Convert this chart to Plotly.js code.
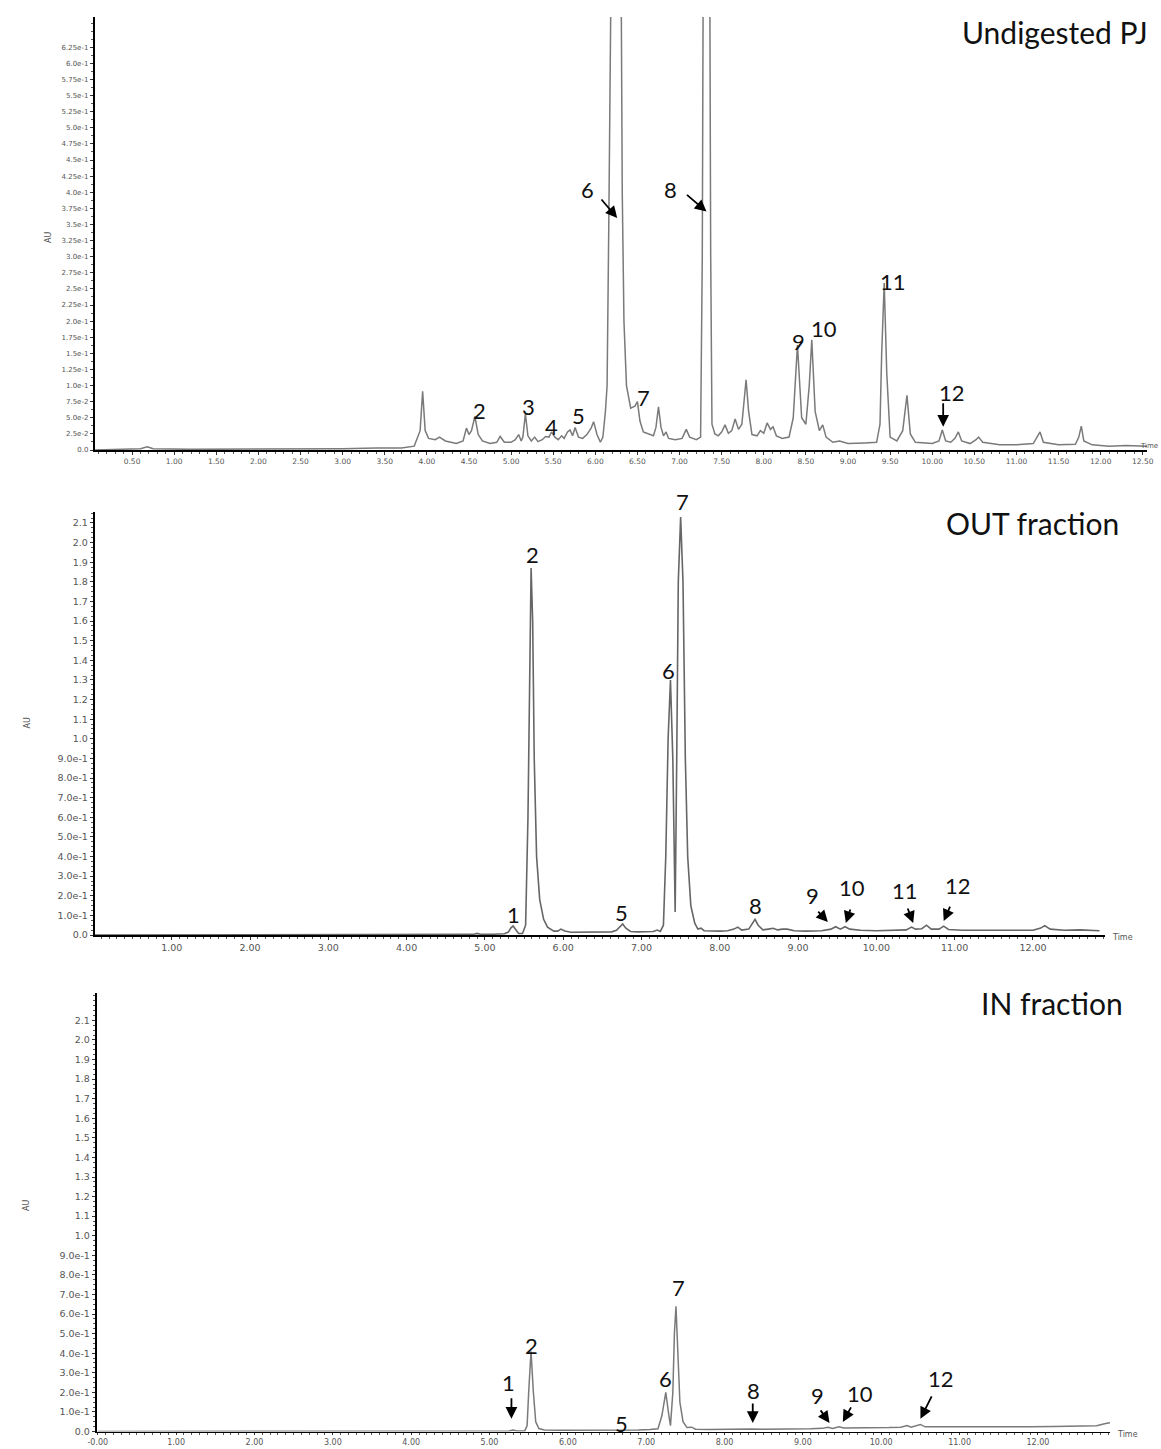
<!DOCTYPE html>
<html><head><meta charset="utf-8">
<script src="https://cdn.plot.ly/plotly-3.0.1.min.js"></script>
<style>body{margin:0;background:#fff}#chart{width:1161px;height:1449px}</style>
</head><body><div id="chart"></div>
<script>
// ---------- DATA ----------
// Panel 1: Undigested PJ chromatogram (time in min, absorbance AU)
const pjTime = [0.06,0.40,0.60,0.68,0.75,1.20,2.00,2.60,3.00,3.40,3.70,3.85,3.92,3.95,3.98,4.02,4.10,4.15,4.22,4.35,4.43,4.47,4.50,4.53,4.57,4.61,4.66,4.75,4.83,4.87,4.92,5.00,5.05,5.09,5.12,5.14,5.17,5.20,5.24,5.28,5.32,5.37,5.41,5.45,5.48,5.52,5.56,5.60,5.63,5.67,5.70,5.73,5.76,5.80,5.85,5.90,5.95,5.98,6.02,6.06,6.09,6.12,6.14,6.16,6.18,6.24,6.30,6.32,6.34,6.37,6.42,6.47,6.50,6.53,6.57,6.64,6.69,6.72,6.75,6.78,6.81,6.84,6.87,6.95,7.03,7.08,7.12,7.20,7.25,7.27,7.285,7.32,7.355,7.37,7.385,7.42,7.46,7.50,7.54,7.58,7.62,7.66,7.70,7.74,7.77,7.79,7.82,7.86,7.92,7.96,8.00,8.04,8.08,8.11,8.15,8.22,8.30,8.35,8.40,8.45,8.50,8.54,8.57,8.61,8.66,8.70,8.74,8.82,8.90,9.00,9.20,9.34,9.38,9.40,9.43,9.46,9.50,9.58,9.65,9.70,9.74,9.80,10.00,10.08,10.12,10.16,10.22,10.27,10.31,10.35,10.45,10.52,10.55,10.60,10.80,11.00,11.20,11.25,11.28,11.32,11.50,11.70,11.74,11.77,11.80,11.90,12.10,12.30,12.55];
const pjAU   = [0.000,0.001,0.002,0.005,0.002,0.001,0.001,0.002,0.002,0.003,0.003,0.006,0.030,0.091,0.030,0.018,0.016,0.020,0.014,0.010,0.014,0.034,0.024,0.030,0.052,0.024,0.014,0.010,0.012,0.021,0.012,0.012,0.016,0.024,0.014,0.020,0.056,0.022,0.014,0.020,0.013,0.016,0.021,0.020,0.028,0.020,0.016,0.022,0.018,0.028,0.031,0.022,0.035,0.020,0.018,0.024,0.034,0.044,0.024,0.012,0.020,0.060,0.100,0.350,0.900,1.500,0.900,0.400,0.200,0.100,0.065,0.068,0.075,0.045,0.028,0.024,0.022,0.035,0.067,0.035,0.022,0.028,0.018,0.016,0.018,0.032,0.020,0.016,0.020,0.300,0.900,1.400,0.900,0.300,0.040,0.025,0.022,0.028,0.039,0.026,0.030,0.048,0.032,0.040,0.090,0.109,0.060,0.024,0.022,0.030,0.026,0.042,0.032,0.036,0.022,0.018,0.020,0.050,0.163,0.050,0.040,0.100,0.171,0.060,0.030,0.039,0.020,0.012,0.014,0.010,0.011,0.012,0.040,0.150,0.259,0.120,0.020,0.014,0.030,0.085,0.025,0.012,0.010,0.014,0.031,0.014,0.012,0.018,0.028,0.014,0.010,0.016,0.020,0.012,0.008,0.008,0.010,0.022,0.028,0.012,0.008,0.009,0.020,0.037,0.014,0.008,0.006,0.007,0.006];

// Panel 2: OUT fraction
const outTime = [0.02,1.00,2.00,3.00,4.00,4.70,4.85,4.90,4.95,5.10,5.25,5.30,5.33,5.36,5.39,5.43,5.48,5.52,5.55,5.57,5.59,5.61,5.63,5.66,5.70,5.75,5.80,5.88,5.93,5.97,6.02,6.10,6.20,6.35,6.50,6.62,6.68,6.72,6.76,6.80,6.86,6.95,7.05,7.15,7.20,7.24,7.28,7.31,7.34,7.37,7.40,7.43,7.45,7.47,7.50,7.53,7.56,7.59,7.63,7.68,7.72,7.76,7.80,7.90,8.00,8.10,8.18,8.23,8.28,8.37,8.42,8.45,8.49,8.55,8.62,8.68,8.74,8.80,8.86,8.95,9.10,9.30,9.42,9.48,9.54,9.60,9.66,9.80,10.00,10.20,10.38,10.45,10.50,10.58,10.64,10.70,10.80,10.86,10.92,11.10,11.40,11.70,12.00,12.10,12.15,12.22,12.40,12.60,12.85];
const outAU   = [0.000,0.000,0.000,0.001,0.001,0.002,0.003,0.008,0.003,0.004,0.006,0.015,0.035,0.046,0.030,0.008,0.008,0.050,0.600,1.400,1.870,1.600,0.900,0.400,0.180,0.080,0.040,0.020,0.020,0.030,0.020,0.014,0.014,0.016,0.014,0.016,0.024,0.040,0.056,0.035,0.018,0.016,0.018,0.018,0.025,0.018,0.050,0.400,1.000,1.300,0.900,0.117,0.900,1.800,2.130,1.800,0.900,0.400,0.150,0.060,0.030,0.035,0.022,0.020,0.020,0.022,0.030,0.040,0.025,0.030,0.065,0.080,0.050,0.026,0.030,0.034,0.026,0.030,0.030,0.022,0.020,0.022,0.030,0.042,0.030,0.042,0.030,0.024,0.022,0.024,0.026,0.040,0.030,0.032,0.050,0.030,0.030,0.045,0.028,0.024,0.024,0.024,0.024,0.035,0.048,0.030,0.024,0.026,0.022];

// Panel 3: IN fraction
const inTime = [0.00,2.00,4.00,5.00,5.25,5.30,5.35,5.45,5.48,5.50,5.53,5.56,5.59,5.63,5.70,5.90,6.10,6.30,6.50,6.70,6.90,7.05,7.15,7.20,7.25,7.29,7.31,7.34,7.36,7.38,7.40,7.43,7.47,7.52,7.58,7.63,7.80,8.00,8.20,8.28,8.34,8.50,8.70,8.90,9.10,9.25,9.32,9.38,9.46,9.52,9.70,9.90,10.10,10.25,10.33,10.38,10.45,10.50,10.56,10.80,11.00,11.30,11.60,11.90,12.20,12.50,12.75,12.85,12.92];
const inAU   = [0.000,0.000,0.001,0.002,0.003,0.007,0.003,0.003,0.030,0.200,0.410,0.200,0.050,0.015,0.008,0.006,0.006,0.006,0.007,0.008,0.008,0.010,0.014,0.080,0.200,0.080,0.030,0.200,0.500,0.640,0.450,0.150,0.050,0.020,0.022,0.012,0.010,0.012,0.012,0.016,0.013,0.012,0.012,0.014,0.014,0.016,0.022,0.016,0.024,0.018,0.018,0.018,0.020,0.022,0.030,0.022,0.028,0.036,0.024,0.024,0.022,0.022,0.024,0.024,0.026,0.027,0.030,0.040,0.045];

// Tick values / labels
const pjYTickVals = [0,0.025,0.05,0.075,0.1,0.125,0.15,0.175,0.2,0.225,0.25,0.275,0.3,0.325,0.35,0.375,0.4,0.425,0.45,0.475,0.5,0.525,0.55,0.575,0.6,0.625];
const pjYTickText = ['0.0','2.5e-2','5.0e-2','7.5e-2','1.0e-1','1.25e-1','1.5e-1','1.75e-1','2.0e-1','2.25e-1','2.5e-1','2.75e-1','3.0e-1','3.25e-1','3.5e-1','3.75e-1','4.0e-1','4.25e-1','4.5e-1','4.75e-1','5.0e-1','5.25e-1','5.5e-1','5.75e-1','6.0e-1','6.25e-1'];
const pjXTickVals = [0.5,1,1.5,2,2.5,3,3.5,4,4.5,5,5.5,6,6.5,7,7.5,8,8.5,9,9.5,10,10.5,11,11.5,12,12.5];
const pjXTickText = ['0.50','1.00','1.50','2.00','2.50','3.00','3.50','4.00','4.50','5.00','5.50','6.00','6.50','7.00','7.50','8.00','8.50','9.00','9.50','10.00','10.50','11.00','11.50','12.00','12.50'];
const fracYTickVals = [0,0.1,0.2,0.3,0.4,0.5,0.6,0.7,0.8,0.9,1.0,1.1,1.2,1.3,1.4,1.5,1.6,1.7,1.8,1.9,2.0,2.1];
const fracYTickText = ['0.0','1.0e-1','2.0e-1','3.0e-1','4.0e-1','5.0e-1','6.0e-1','7.0e-1','8.0e-1','9.0e-1','1.0','1.1','1.2','1.3','1.4','1.5','1.6','1.7','1.8','1.9','2.0','2.1'];
const outXTickVals = [1,2,3,4,5,6,7,8,9,10,11,12];
const outXTickText = ['1.00','2.00','3.00','4.00','5.00','6.00','7.00','8.00','9.00','10.00','11.00','12.00'];
const inXTickVals = [0,1,2,3,4,5,6,7,8,9,10,11,12];
const inXTickText = ['-0.00','1.00','2.00','3.00','4.00','5.00','6.00','7.00','8.00','9.00','10.00','11.00','12.00'];

const panelTitles = ['Undigested PJ','OUT fraction','IN fraction'];
const pjPeakLabels  = ['2','3','4','5','6','7','8','9','10','11','12'];
const outPeakLabels = ['1','2','5','6','7','8','9','10','11','12'];
const inPeakLabels  = ['1','2','5','6','7','8','9','10','12'];

// ---------- LAYOUT ----------
const W = 1161, H = 1449;
const fx = p => p / W, fy = p => 1 - p / H;
const LINE = '#7a7a7a';
const tickFam = 'DejaVu Sans, Verdana, sans-serif';
const lblFont = {family:'Lato, Open Sans, sans-serif', size:22, color:'#111'};

// label placements (data coordinates) for each panel
const pjLabelPos  = [[4.62,0.062],[5.21,0.068],[5.48,0.036],[5.80,0.053],[5.91,0.404],[6.57,0.082],[6.89,0.404],[8.41,0.168],[8.72,0.188],[9.54,0.262],[10.23,0.0885]];
const outLabelPos = [[5.36,0.107],[5.61,1.937],[6.75,0.117],[7.35,1.346],[7.52,2.13,'bottom'],[8.45,0.148],[9.19,0.199],[9.69,0.240],[10.36,0.229],[11.04,0.250]];
const inLabelPos  = [[5.24,0.248],[5.54,0.437],[6.68,0.039],[7.24,0.269],[7.41,0.737],[8.37,0.212],[9.19,0.182],[9.73,0.192],[10.76,0.273]];
// arrows: [tipX, tipY, ax(px), ay(px)]
const pjArrows  = [[6.26,0.360,-17,-20],[7.32,0.370,-21,-18],[10.13,0.036,0,-25]];
const outArrows = [[9.38,0.066,-11,-12],[9.61,0.061,5,-15],[10.47,0.061,-6,-16],[10.86,0.071,7,-16]];
const inArrows  = [[5.28,0.065,0,-22],[8.36,0.044,0,-21],[9.34,0.044,-10,-14],[9.51,0.049,9,-16],[10.50,0.065,12,-24]];

const annotations = [];
function addLabels(texts, pos, xr, yr){
  texts.forEach((t,i)=>{
    annotations.push({text:t, x:pos[i][0], y:pos[i][1], xref:xr, yref:yr, showarrow:false,
      yanchor:pos[i][2]||'middle', font:lblFont});
  });
}
function addArrows(arr, xr, yr){
  arr.forEach(a=>{
    annotations.push({text:'', x:a[0], y:a[1], xref:xr, yref:yr, ax:a[2], ay:a[3],
      showarrow:true, arrowhead:2, arrowsize:1.3, arrowwidth:1.8, arrowcolor:'#000', standoff:0});
  });
}
addLabels(pjPeakLabels, pjLabelPos, 'x', 'y');
addLabels(outPeakLabels, outLabelPos, 'x2', 'y2');
addLabels(inPeakLabels, inLabelPos, 'x3', 'y3');
addArrows(pjArrows, 'x', 'y');
addArrows(outArrows, 'x2', 'y2');
addArrows(inArrows, 'x3', 'y3');

// panel titles
const titlePos = [[1055,32],[1032,523],[1052,1003]];
panelTitles.forEach((t,i)=>annotations.push({text:t, xref:'paper', yref:'paper', x:fx(titlePos[i][0]), y:fy(titlePos[i][1]),
  showarrow:false, xanchor:'center', yanchor:'middle', font:{family:'Lato, Open Sans, sans-serif', size:30, color:'#111'}}));
// axis titles
[[42,230],[20,723],[20,1213]].forEach(p=>annotations.push({text:'AU', xref:'paper', yref:'paper', x:fx(p[0]), y:fy(p[1]),
  textangle:-90, showarrow:false, font:{family:tickFam, size:8, color:'#555'}}));
[[1160,446,'right',7],[1122,937,'center',8],[1127,1434,'center',8]].forEach(p=>annotations.push({text:'Time', xref:'paper', yref:'paper',
  x:fx(p[0]), y:fy(p[1]), xanchor:p[2], yanchor:'middle', showarrow:false, font:{family:tickFam, size:p[3], color:'#555'}}));

function axis(isX, dom, range, anchor, vals, text, minorD, fs, tl){
  return {domain:dom, range:range, anchor:anchor, showgrid:false, zeroline:false, showline:true, linecolor:'#000',
    linewidth: isX ? 1.6 : 2.2,
    tickmode:'array', tickvals:vals, ticktext:text, ticks:'outside', ticklen:tl||3, tickwidth:1, tickcolor:'#333',
    tickfont:{family:tickFam, size:fs, color:'#555'}, fixedrange:true,
    minor:{tickmode:'linear', tick0:0, dtick:minorD, ticks:'outside', ticklen:2, tickwidth:1, tickcolor:'#555', showgrid:false}};
}

const layout = {
  width:W, height:H, margin:{l:0,r:0,t:0,b:0}, paper_bgcolor:'#fff', plot_bgcolor:'rgba(0,0,0,0)', showlegend:false,
  xaxis:  axis(true,  [fx(95), fx(1147)], [0.06, 12.55], 'y',  pjXTickVals, pjXTickText, 0.1, 7.5),
  yaxis:  axis(false, [fy(450), fy(17)], [0, 0.672], 'x', pjYTickVals, pjYTickText, 0.0125, 7),
  xaxis2: axis(true,  [fx(95), fx(1105)], [0.02, 12.92], 'y2', outXTickVals, outXTickText, 0.1, 9.5),
  yaxis2: axis(false, [fy(935), fy(512)], [0, 2.156], 'x2', fracYTickVals, fracYTickText, 0.025, 9.5),
  xaxis3: axis(true,  [fx(97), fx(1110)], [-0.01, 12.92], 'y3', inXTickVals, inXTickText, 0.1, 8, 2),
  yaxis3: axis(false, [fy(1431.5), fy(993)], [0, 2.24], 'x3', fracYTickVals, fracYTickText, 0.025, 9.5),
  annotations: annotations
};

const traces = [
  {x:pjTime, y:pjAU, xaxis:'x', yaxis:'y', type:'scatter', mode:'lines', line:{color:LINE, width:1.5}, hoverinfo:'skip'},
  {x:outTime, y:outAU, xaxis:'x2', yaxis:'y2', type:'scatter', mode:'lines', line:{color:'#666', width:1.6}, hoverinfo:'skip'},
  {x:inTime, y:inAU, xaxis:'x3', yaxis:'y3', type:'scatter', mode:'lines', line:{color:LINE, width:1.5}, hoverinfo:'skip'}
];

Plotly.newPlot('chart', traces, layout, {displayModeBar:false, staticPlot:true});
</script>
</body></html>
